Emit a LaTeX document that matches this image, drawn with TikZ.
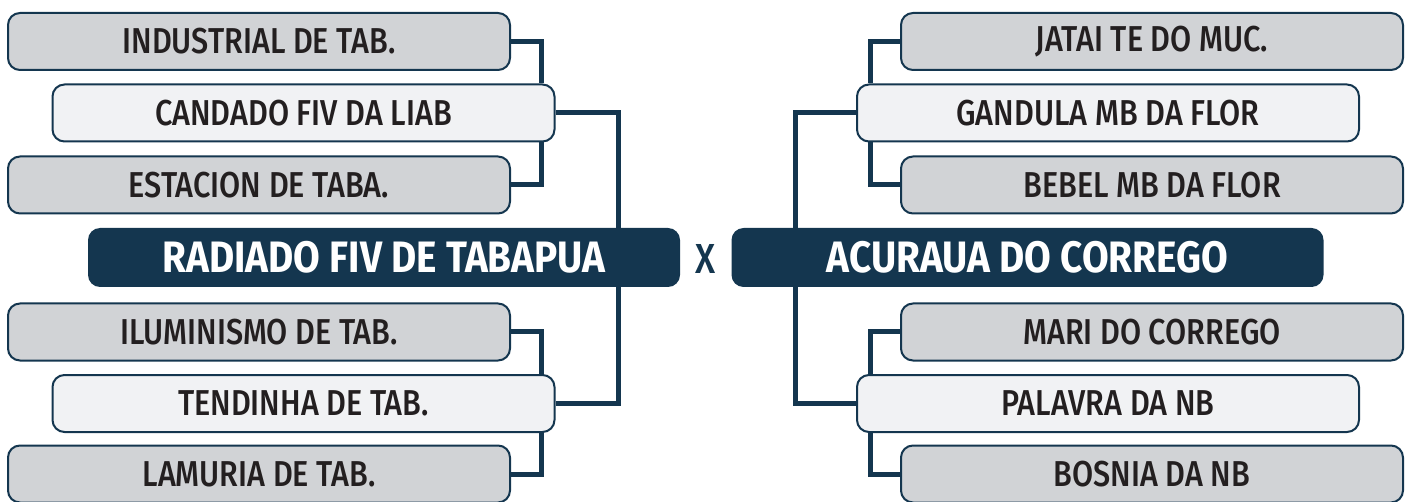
\documentclass[tikz,border=0pt]{standalone}
\usepackage{fontspec}
\setmainfont{Fira Sans}
\newfontfamily\teamfont{Fira Sans}[FakeStretch=0.85, UprightFont=* Medium]
\newfontfamily\finalfont{Fira Sans}[FakeStretch=0.88, UprightFont=* Bold]
\usepackage{tikz}
\usetikzlibrary{positioning}
\usetikzlibrary{backgrounds}
\definecolor{navy}{RGB}{20, 54, 79}
\definecolor{boxgray}{RGB}{209, 211, 214}
\definecolor{boxlight}{RGB}{241, 242, 244}
\definecolor{ink}{RGB}{35, 31, 32}
\tikzset{team/.style = {draw = navy, line width = 2, rounded corners = 12,
    minimum width = 502, minimum height = 57, inner sep = 0,
    text = ink, font = \teamfont\fontsize{36}{36}\selectfont}}
\tikzset{seed/.style = {team, fill = boxgray}}
\tikzset{pick/.style = {team, fill = boxlight}}
\tikzset{final/.style = {fill = navy, rounded corners = 12, minimum width = 592,
    minimum height = 59, inner sep = 0, text = white,
    font = \finalfont\fontsize{44}{44}\selectfont}}
\tikzset{link/.style = {draw = navy, line width = 5}}

\begin{document}
\begin{tikzpicture}[x = 1pt, y = -1pt]
    \useasboundingbox (0, 0) rectangle (1410, 502);

    % left bracket
    \node [seed] (ind) at (259, 41.5) {INDUSTRIAL DE TAB.};
    \node [pick] (cand) at (303.5, 113) {CANDADO FIV DA LIAB};
    \node [seed] (est) at (259, 185) {ESTACION DE TABA.};
    \node [final] (rad) at (384, 257.5) {RADIADO FIV DE TABAPUA};
    \node [seed] (ilu) at (259, 332) {ILUMINISMO DE TAB.};
    \node [pick] (ten) at (303.5, 403.5) {TENDINHA DE TAB.};
    \node [seed] (lam) at (259, 474) {LAMURIA DE TAB.};

    % right bracket
    \node [seed] (jat) at (1152, 41.5) {JATAI TE DO MUC.};
    \node [pick] (gan) at (1108, 113) {GANDULA MB DA FLOR};
    \node [seed] (beb) at (1152, 185) {BEBEL MB DA FLOR};
    \node [final] (acu) at (1027.5, 257.5) {ACURAUA DO CORREGO};
    \node [seed] (mar) at (1152, 332) {MARI DO CORREGO};
    \node [pick] (pal) at (1108, 403.5) {PALAVRA DA NB};
    \node [seed] (bos) at (1152, 474) {BOSNIA DA NB};

    \node [text = navy, font = \teamfont\fontsize{42}{42}\selectfont] (vs) at (706, 259) {X};

    \coordinate (lin) at (541, 0);
    \coordinate (lout) at (618, 0);
    \coordinate (rin) at (870, 0);
    \coordinate (rout) at (795, 0);

    \begin{scope}[on background layer]
      \draw [link] (ind.east) -| (lin |- cand.north);
      \draw [link] (lin |- cand.south) |- (est.east);
      \draw [link] (ilu.east) -| (lin |- ten.north);
      \draw [link] (lin |- ten.south) |- (lam.east);
      \draw [link] (cand.east) -| (lout |- rad.north);
      \draw [link] (lout |- rad.south) |- (ten.east);

      \draw [link] (jat.west) -| (rin |- gan.north);
      \draw [link] (rin |- gan.south) |- (beb.west);
      \draw [link] (mar.west) -| (rin |- pal.north);
      \draw [link] (rin |- pal.south) |- (bos.west);
      \draw [link] (gan.west) -| (rout |- acu.north);
      \draw [link] (rout |- acu.south) |- (pal.west);
    \end{scope}
  \end{tikzpicture}
\end{document}
